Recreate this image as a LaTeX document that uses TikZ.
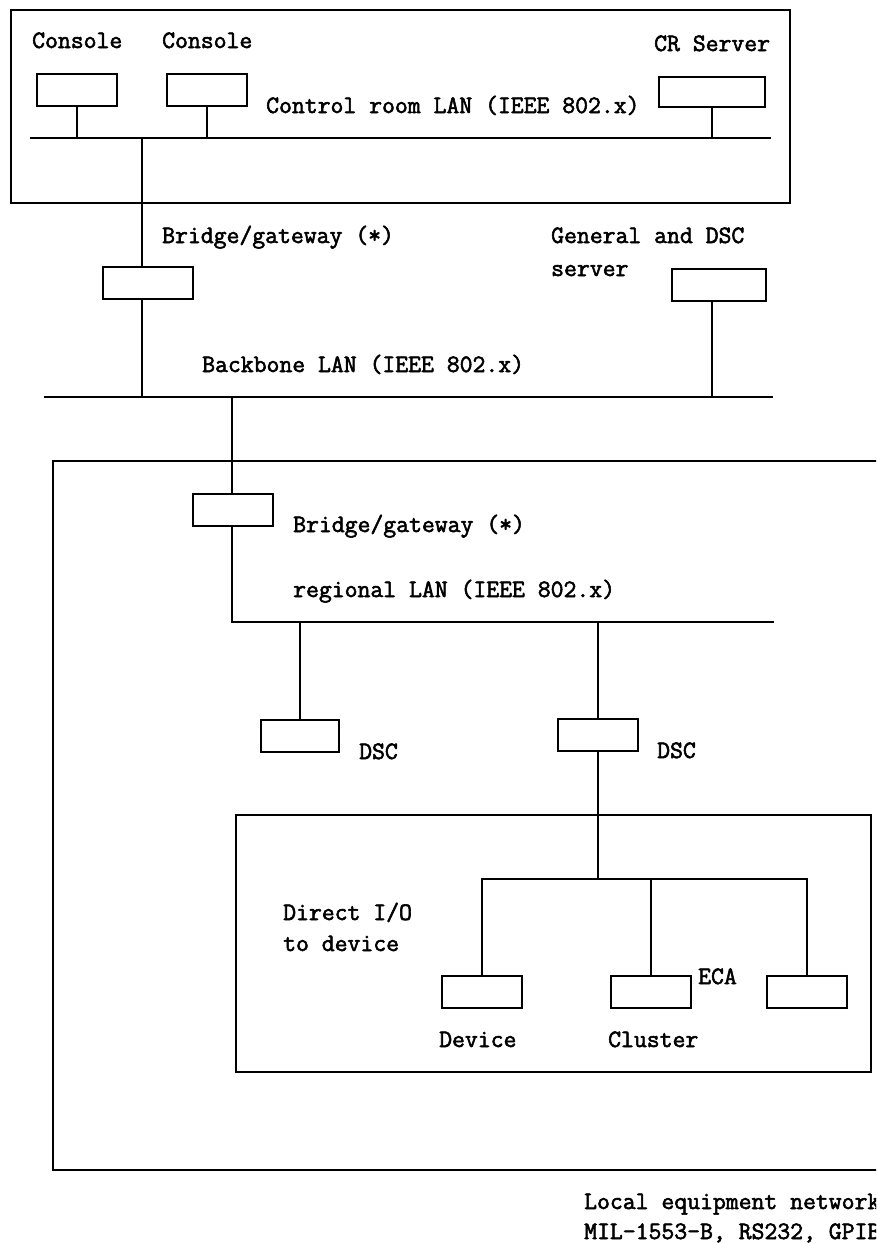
\documentclass[tikz,border=0pt]{standalone}
\usepackage{fontspec}
\newfontfamily\lblfont[FakeBold=2.2]{Latin Modern Mono}
\tikzset{
  ln/.style={line width=2pt, line cap=rect},
  unit/.style={draw, line width=2pt, inner sep=0pt, minimum height=32pt, minimum width=80pt},
  lbl/.style={anchor=base west, inner sep=0pt, font=\lblfont\fontsize{25}{30}\selectfont}
}
\begin{document}
\begin{tikzpicture}[x=1pt,y=-1pt]
\useasboundingbox (0,0) rectangle (876,1243);
\clip (0,0) rectangle (876,1243);
\fill[white] (0,0) rectangle (876,1243);

% enclosures
\draw[ln] (11,10) rectangle (790,203);
\draw[ln] (53,461) rectangle (920,1170);
\draw[ln] (236,815) rectangle (871,1072);

% boxes
\node[unit] (con1) at (77,90) {};
\node[unit] (con2) at (207,90) {};
\node[unit, minimum width=106pt, minimum height=30pt] (crs) at (712,92) {};
\node[unit, minimum width=90pt] (br1) at (148,283) {};
\node[unit, minimum width=94pt] (gsv) at (719,285) {};
\node[unit, minimum width=80pt] (br2) at (233,510) {};
\node[unit, minimum width=78pt] (dsc1) at (300,736) {};
\node[unit] (dsc2) at (598,735) {};
\node[unit] (dev) at (482,992) {};
\node[unit] (clu) at (651,992) {};
\node[unit] (rgt) at (807,992) {};

% buses
\coordinate (crL) at (31,138);
\coordinate (crR) at (770,138);
\coordinate (bbL) at (45,397);
\coordinate (bbR) at (772,397);
\coordinate (rgL) at (232,622);
\coordinate (rgR) at (773,622);
\coordinate (bL) at (482,879);
\coordinate (bR) at (807,879);
\coordinate (t1) at (142,138);
\coordinate (t2) at (712,397);
\coordinate (t3) at (232,397);
\coordinate (t4) at (598,879);

\draw[ln] (crL) -- (crR);
\draw[ln] (bbL) -- (bbR);
\draw[ln] (rgL) -- (rgR);
\draw[ln] (bL) -- (bR);

% stems
\draw[ln] (con1.south) -- (con1.south |- crL);
\draw[ln] (con2.south) -- (con2.south |- crL);
\draw[ln] (crs.south) -- (crs.south |- crL);
\draw[ln] (t1) -- (t1 |- br1.north);
\draw[ln] (t1 |- br1.south) -- (t1 |- bbL);
\draw[ln] (t2 |- gsv.south) -- (t2);
\draw[ln] (t3) -- (t3 |- br2.north);
\draw[ln] (t3 |- br2.south) -- (rgL);
\draw[ln] (dsc1.north) -- (dsc1.north |- rgL);
\draw[ln] (dsc2.north) -- (dsc2.north |- rgL);
\draw[ln] (dsc2.south) -- (t4);
\draw[ln] (dev.north) -- (dev.north |- bL);
\draw[ln] (clu.north) -- (clu.north |- bL);
\draw[ln] (rgt.north) -- (rgt.north |- bL);

% labels
\node[lbl] (l1) at (32,48) {Console};
\node[lbl] (l2) at (162,48) {Console};
\node[lbl] (l3) at (654,51) {CR Server};
\node[lbl] (l4) at (266,113) {Control room LAN (IEEE 802.x)};
\node[lbl] (l5) at (162,243) {Bridge/gateway (*)};
\node[lbl] (l6) at (551,243) {General and DSC};
\node[lbl] (l7) at (551,276) {server};
\node[lbl] (l8) at (202,372) {Backbone LAN (IEEE 802.x)};
\node[lbl] (l9) at (293,532) {Bridge/gateway (*)};
\node[lbl] (l10) at (293,597) {regional LAN (IEEE 802.x)};
\node[lbl] (l11) at (359,759) {DSC};
\node[lbl] (l12) at (657,758) {DSC};
\node[lbl] (l13) at (283,920) {Direct I/O};
\node[lbl] (l14) at (283,951) {to device};
\node[lbl] (l15) at (698,984) {ECA};
\node[lbl] (l16) at (439,1047) {Device};
\node[lbl] (l17) at (608,1047) {Cluster};
\node[lbl] (l18) at (584,1209) {Local equipment network};
\node[lbl] (l19) at (584,1239) {MIL-1553-B, RS232, GPIB};
\end{tikzpicture}
\end{document}
